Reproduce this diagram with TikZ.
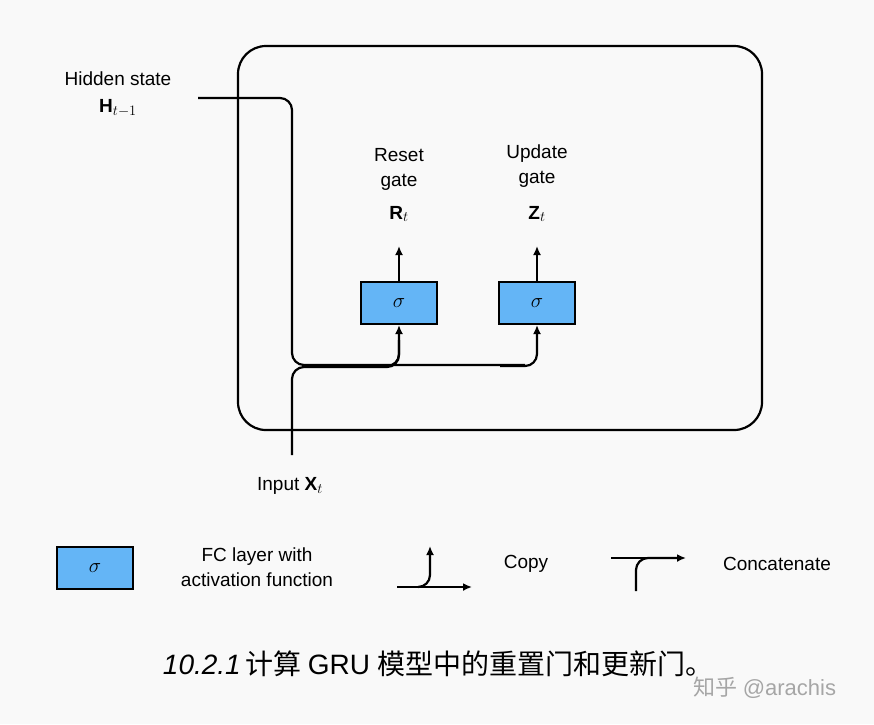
\documentclass[tikz,border=0pt]{standalone}
\usepackage{fontspec}
\setmainfont{Liberation Sans}
\newfontfamily\cjk{Noto Sans CJK SC}
\usetikzlibrary{arrows.meta}
\definecolor{gateblue}{HTML}{64B5F6}
\definecolor{bgray}{HTML}{F9F9F9}
\tikzstyle{gate} = [rectangle, draw, fill=gateblue, line width=2pt, minimum width=76pt, minimum height=42pt, font=\fontsize{20}{22}\selectfont]
\tikzstyle{label} = [align=center, font=\fontsize{19}{25}\selectfont]
\tikzstyle{arrow} = [draw, line width=2.2pt, -{Latex[length=9pt,width=8pt]}]
\tikzstyle{line} = [draw, line width=2.2pt, rounded corners=12pt]
\begin{document}
\begin{tikzpicture}[x=1pt, y=-1pt]
    \fill[bgray] (0,0) rectangle (874,724);
    \useasboundingbox (0,0) rectangle (874,724);
    \draw[line width=2.2pt, rounded corners=28pt] (238,46) rectangle (762,430);

    \node[label] (hidden) at (118,79) {Hidden state};
    \node[label] (hmath) at (118,108) {$\mathbf{H}_{t-1}$};
    \node[gate] (reset) at (399,303) {$\sigma$};
    \node[gate] (update) at (537,303) {$\sigma$};
    \node[label] (rlabel) at (399,169) {Reset\\gate};
    \node[label] (rmath) at (399,214) {$\mathbf{R}_t$};
    \node[label] (zlabel) at (537,166) {Update\\gate};
    \node[label] (zmath) at (537,214) {$\mathbf{Z}_t$};
    \node[label] (input) at (290,486) {Input $\mathbf{X}_t$};

    \coordinate (hstart) at (198,98);
    \coordinate (xstart) at (292,455);

    % lines
    \draw[line] (hstart) -- (292,98) -- (292,365) -- (525,365);
    \draw[line] (xstart) -- (292,367) -- (399,367) -- (399,340);
    \draw[arrow, rounded corners=12pt] (380,366) -- (399,366) -- (reset.south);
    \draw[arrow, rounded corners=12pt] (500,366) -- (537,366) -- (update.south);
    \draw[arrow] (reset.north) -- (399,246);
    \draw[arrow] (update.north) -- (537,246);

    % legend
    \node[gate] (lgate) at (95,568) {$\sigma$};
    \node[label] (lfc) at (257,567) {FC layer with\\activation function};
    \coordinate (ca) at (397,587);
    \draw[arrow] (ca) -- (472,587);
    \draw[arrow, rounded corners=12pt] (418,587) -- (430,587) -- (430,546);
    \node[label] (lcopy) at (526,564) {Copy};
    \coordinate (cb) at (636,591);
    \draw[arrow, rounded corners=12pt] (cb) -- (636,558) -- (686,558);
    \draw[line] (611,558) -- (650,558);
    \node[label] (lcat) at (777,564) {Concatenate};

    % caption
    \node[font=\fontsize{28}{32}\selectfont] (caption) at (424,664) {\textit{图 10.2.1}\,\cjk 计算 \rmfamily GRU \cjk 模型中的重置门和更新门。};
    \node[text=gray!70, font=\fontsize{22}{26}\selectfont] (mark) at (765,688) {\cjk 知乎 \rmfamily @arachis};
\end{tikzpicture}
\end{document}
